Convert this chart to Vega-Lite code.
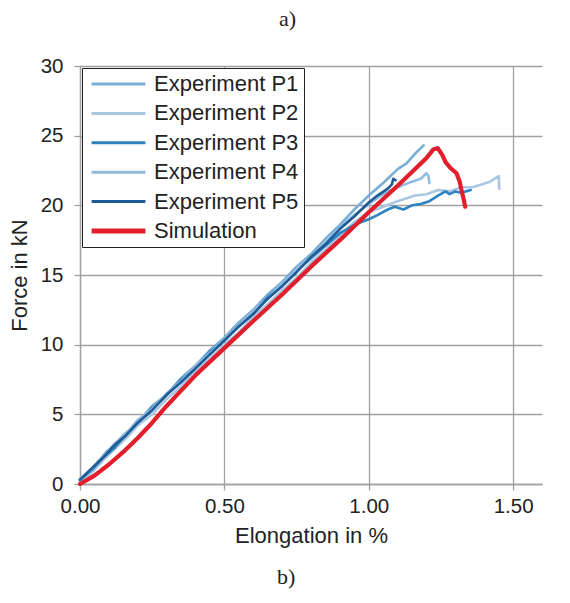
{
  "$schema": "https://vega.github.io/schema/vega-lite/v6.json",
  "width": 462,
  "height": 418,
  "autosize": {"type": "none"},
  "padding": {"left": 80, "top": 66, "right": 28, "bottom": 119},
  "background": "white",
  "title": {"text": "b)", "orient": "bottom", "frame": "bounds", "anchor": "middle", "font": "Liberation Serif", "fontSize": 22, "fontWeight": "normal", "color": "#222222", "offset": 20, "dx": 11},
  "config": {"view": {"stroke": null}, "font": "Liberation Sans"},
  "data": {"values": [
    {"series": "Experiment P1", "elongation": 0, "force": 0.3},
    {"series": "Experiment P1", "elongation": 0.03, "force": 0.9},
    {"series": "Experiment P1", "elongation": 0.06, "force": 1.5},
    {"series": "Experiment P1", "elongation": 0.09, "force": 2.3},
    {"series": "Experiment P1", "elongation": 0.12, "force": 2.8},
    {"series": "Experiment P1", "elongation": 0.15, "force": 3.5},
    {"series": "Experiment P1", "elongation": 0.2, "force": 4.4},
    {"series": "Experiment P1", "elongation": 0.25, "force": 5.6},
    {"series": "Experiment P1", "elongation": 0.3, "force": 6.4},
    {"series": "Experiment P1", "elongation": 0.35, "force": 7.6},
    {"series": "Experiment P1", "elongation": 0.4, "force": 8.5},
    {"series": "Experiment P1", "elongation": 0.45, "force": 9.6},
    {"series": "Experiment P1", "elongation": 0.5, "force": 10.5},
    {"series": "Experiment P1", "elongation": 0.55, "force": 11.6},
    {"series": "Experiment P1", "elongation": 0.6, "force": 12.5},
    {"series": "Experiment P1", "elongation": 0.65, "force": 13.6},
    {"series": "Experiment P1", "elongation": 0.7, "force": 14.5},
    {"series": "Experiment P1", "elongation": 0.75, "force": 15.6},
    {"series": "Experiment P1", "elongation": 0.8, "force": 16.5},
    {"series": "Experiment P1", "elongation": 0.85, "force": 17.6},
    {"series": "Experiment P1", "elongation": 0.9, "force": 18.6},
    {"series": "Experiment P1", "elongation": 0.95, "force": 19.7},
    {"series": "Experiment P1", "elongation": 1.0, "force": 20.7},
    {"series": "Experiment P1", "elongation": 1.05, "force": 21.6},
    {"series": "Experiment P1", "elongation": 1.1, "force": 22.6},
    {"series": "Experiment P1", "elongation": 1.13, "force": 23.0},
    {"series": "Experiment P1", "elongation": 1.16, "force": 23.7},
    {"series": "Experiment P1", "elongation": 1.19, "force": 24.3},

    {"series": "Experiment P2", "elongation": 0, "force": 0.2},
    {"series": "Experiment P2", "elongation": 0.04, "force": 0.8},
    {"series": "Experiment P2", "elongation": 0.08, "force": 1.7},
    {"series": "Experiment P2", "elongation": 0.12, "force": 2.5},
    {"series": "Experiment P2", "elongation": 0.16, "force": 3.3},
    {"series": "Experiment P2", "elongation": 0.2, "force": 4.2},
    {"series": "Experiment P2", "elongation": 0.25, "force": 5.0},
    {"series": "Experiment P2", "elongation": 0.3, "force": 6.1},
    {"series": "Experiment P2", "elongation": 0.35, "force": 7.0},
    {"series": "Experiment P2", "elongation": 0.4, "force": 8.1},
    {"series": "Experiment P2", "elongation": 0.45, "force": 9.0},
    {"series": "Experiment P2", "elongation": 0.5, "force": 10.0},
    {"series": "Experiment P2", "elongation": 0.55, "force": 10.9},
    {"series": "Experiment P2", "elongation": 0.6, "force": 12.0},
    {"series": "Experiment P2", "elongation": 0.65, "force": 12.9},
    {"series": "Experiment P2", "elongation": 0.7, "force": 13.9},
    {"series": "Experiment P2", "elongation": 0.75, "force": 14.8},
    {"series": "Experiment P2", "elongation": 0.8, "force": 15.9},
    {"series": "Experiment P2", "elongation": 0.85, "force": 16.8},
    {"series": "Experiment P2", "elongation": 0.9, "force": 17.8},
    {"series": "Experiment P2", "elongation": 0.95, "force": 18.8},
    {"series": "Experiment P2", "elongation": 1.0, "force": 19.5},
    {"series": "Experiment P2", "elongation": 1.05, "force": 19.9},
    {"series": "Experiment P2", "elongation": 1.1, "force": 20.3},
    {"series": "Experiment P2", "elongation": 1.16, "force": 20.7},
    {"series": "Experiment P2", "elongation": 1.2, "force": 20.8},
    {"series": "Experiment P2", "elongation": 1.24, "force": 21.1},
    {"series": "Experiment P2", "elongation": 1.28, "force": 21.0},
    {"series": "Experiment P2", "elongation": 1.32, "force": 21.3},
    {"series": "Experiment P2", "elongation": 1.36, "force": 21.3},
    {"series": "Experiment P2", "elongation": 1.39, "force": 21.5},
    {"series": "Experiment P2", "elongation": 1.42, "force": 21.7},
    {"series": "Experiment P2", "elongation": 1.45, "force": 22.1},
    {"series": "Experiment P2", "elongation": 1.452, "force": 21.2},

    {"series": "Experiment P3", "elongation": 0, "force": 0.3},
    {"series": "Experiment P3", "elongation": 0.04, "force": 1.0},
    {"series": "Experiment P3", "elongation": 0.08, "force": 1.9},
    {"series": "Experiment P3", "elongation": 0.12, "force": 2.6},
    {"series": "Experiment P3", "elongation": 0.16, "force": 3.6},
    {"series": "Experiment P3", "elongation": 0.2, "force": 4.4},
    {"series": "Experiment P3", "elongation": 0.25, "force": 5.5},
    {"series": "Experiment P3", "elongation": 0.3, "force": 6.4},
    {"series": "Experiment P3", "elongation": 0.35, "force": 7.5},
    {"series": "Experiment P3", "elongation": 0.4, "force": 8.4},
    {"series": "Experiment P3", "elongation": 0.45, "force": 9.5},
    {"series": "Experiment P3", "elongation": 0.5, "force": 10.3},
    {"series": "Experiment P3", "elongation": 0.55, "force": 11.4},
    {"series": "Experiment P3", "elongation": 0.6, "force": 12.3},
    {"series": "Experiment P3", "elongation": 0.65, "force": 13.4},
    {"series": "Experiment P3", "elongation": 0.7, "force": 14.3},
    {"series": "Experiment P3", "elongation": 0.75, "force": 15.3},
    {"series": "Experiment P3", "elongation": 0.8, "force": 16.2},
    {"series": "Experiment P3", "elongation": 0.85, "force": 17.1},
    {"series": "Experiment P3", "elongation": 0.9, "force": 18.0},
    {"series": "Experiment P3", "elongation": 0.95, "force": 18.6},
    {"series": "Experiment P3", "elongation": 1.0, "force": 19.0},
    {"series": "Experiment P3", "elongation": 1.03, "force": 19.3},
    {"series": "Experiment P3", "elongation": 1.066, "force": 19.7},
    {"series": "Experiment P3", "elongation": 1.09, "force": 19.9},
    {"series": "Experiment P3", "elongation": 1.12, "force": 19.7},
    {"series": "Experiment P3", "elongation": 1.15, "force": 20.0},
    {"series": "Experiment P3", "elongation": 1.18, "force": 20.1},
    {"series": "Experiment P3", "elongation": 1.21, "force": 20.3},
    {"series": "Experiment P3", "elongation": 1.24, "force": 20.7},
    {"series": "Experiment P3", "elongation": 1.266, "force": 21.0},
    {"series": "Experiment P3", "elongation": 1.28, "force": 20.8},
    {"series": "Experiment P3", "elongation": 1.3, "force": 21.0},
    {"series": "Experiment P3", "elongation": 1.32, "force": 20.9},
    {"series": "Experiment P3", "elongation": 1.353, "force": 21.1},

    {"series": "Experiment P4", "elongation": 0, "force": 0.4},
    {"series": "Experiment P4", "elongation": 0.04, "force": 1.1},
    {"series": "Experiment P4", "elongation": 0.08, "force": 2.0},
    {"series": "Experiment P4", "elongation": 0.12, "force": 2.9},
    {"series": "Experiment P4", "elongation": 0.16, "force": 3.6},
    {"series": "Experiment P4", "elongation": 0.2, "force": 4.6},
    {"series": "Experiment P4", "elongation": 0.25, "force": 5.4},
    {"series": "Experiment P4", "elongation": 0.3, "force": 6.5},
    {"series": "Experiment P4", "elongation": 0.35, "force": 7.4},
    {"series": "Experiment P4", "elongation": 0.4, "force": 8.5},
    {"series": "Experiment P4", "elongation": 0.45, "force": 9.4},
    {"series": "Experiment P4", "elongation": 0.5, "force": 10.4},
    {"series": "Experiment P4", "elongation": 0.55, "force": 11.4},
    {"series": "Experiment P4", "elongation": 0.6, "force": 12.4},
    {"series": "Experiment P4", "elongation": 0.65, "force": 13.3},
    {"series": "Experiment P4", "elongation": 0.7, "force": 14.4},
    {"series": "Experiment P4", "elongation": 0.75, "force": 15.3},
    {"series": "Experiment P4", "elongation": 0.8, "force": 16.3},
    {"series": "Experiment P4", "elongation": 0.85, "force": 17.3},
    {"series": "Experiment P4", "elongation": 0.9, "force": 18.4},
    {"series": "Experiment P4", "elongation": 0.95, "force": 19.3},
    {"series": "Experiment P4", "elongation": 1.0, "force": 20.1},
    {"series": "Experiment P4", "elongation": 1.05, "force": 20.8},
    {"series": "Experiment P4", "elongation": 1.1, "force": 21.3},
    {"series": "Experiment P4", "elongation": 1.15, "force": 21.7},
    {"series": "Experiment P4", "elongation": 1.18, "force": 21.9},
    {"series": "Experiment P4", "elongation": 1.2, "force": 22.3},
    {"series": "Experiment P4", "elongation": 1.207, "force": 22.1},
    {"series": "Experiment P4", "elongation": 1.21, "force": 21.6},

    {"series": "Experiment P5", "elongation": 0, "force": 0.3},
    {"series": "Experiment P5", "elongation": 0.04, "force": 1.1},
    {"series": "Experiment P5", "elongation": 0.08, "force": 1.9},
    {"series": "Experiment P5", "elongation": 0.12, "force": 2.8},
    {"series": "Experiment P5", "elongation": 0.16, "force": 3.5},
    {"series": "Experiment P5", "elongation": 0.2, "force": 4.4},
    {"series": "Experiment P5", "elongation": 0.25, "force": 5.3},
    {"series": "Experiment P5", "elongation": 0.3, "force": 6.4},
    {"series": "Experiment P5", "elongation": 0.35, "force": 7.3},
    {"series": "Experiment P5", "elongation": 0.4, "force": 8.3},
    {"series": "Experiment P5", "elongation": 0.45, "force": 9.3},
    {"series": "Experiment P5", "elongation": 0.5, "force": 10.3},
    {"series": "Experiment P5", "elongation": 0.55, "force": 11.3},
    {"series": "Experiment P5", "elongation": 0.6, "force": 12.2},
    {"series": "Experiment P5", "elongation": 0.65, "force": 13.3},
    {"series": "Experiment P5", "elongation": 0.7, "force": 14.2},
    {"series": "Experiment P5", "elongation": 0.75, "force": 15.2},
    {"series": "Experiment P5", "elongation": 0.8, "force": 16.3},
    {"series": "Experiment P5", "elongation": 0.85, "force": 17.2},
    {"series": "Experiment P5", "elongation": 0.9, "force": 18.3},
    {"series": "Experiment P5", "elongation": 0.95, "force": 19.2},
    {"series": "Experiment P5", "elongation": 1.0, "force": 20.2},
    {"series": "Experiment P5", "elongation": 1.03, "force": 20.7},
    {"series": "Experiment P5", "elongation": 1.066, "force": 21.2},
    {"series": "Experiment P5", "elongation": 1.08, "force": 21.5},
    {"series": "Experiment P5", "elongation": 1.085, "force": 21.9},
    {"series": "Experiment P5", "elongation": 1.093, "force": 21.8},

    {"series": "Simulation", "elongation": 0, "force": 0},
    {"series": "Simulation", "elongation": 0.05, "force": 0.6},
    {"series": "Simulation", "elongation": 0.1, "force": 1.4},
    {"series": "Simulation", "elongation": 0.15, "force": 2.3},
    {"series": "Simulation", "elongation": 0.2, "force": 3.3},
    {"series": "Simulation", "elongation": 0.25, "force": 4.4},
    {"series": "Simulation", "elongation": 0.3, "force": 5.6},
    {"series": "Simulation", "elongation": 0.35, "force": 6.7},
    {"series": "Simulation", "elongation": 0.4, "force": 7.8},
    {"series": "Simulation", "elongation": 0.5, "force": 9.75},
    {"series": "Simulation", "elongation": 0.6, "force": 11.7},
    {"series": "Simulation", "elongation": 0.7, "force": 13.6},
    {"series": "Simulation", "elongation": 0.8, "force": 15.6},
    {"series": "Simulation", "elongation": 0.9, "force": 17.5},
    {"series": "Simulation", "elongation": 1.0, "force": 19.5},
    {"series": "Simulation", "elongation": 1.1, "force": 21.4},
    {"series": "Simulation", "elongation": 1.2, "force": 23.4},
    {"series": "Simulation", "elongation": 1.223, "force": 24.0},
    {"series": "Simulation", "elongation": 1.239, "force": 24.1},
    {"series": "Simulation", "elongation": 1.255, "force": 23.6},
    {"series": "Simulation", "elongation": 1.266, "force": 23.1},
    {"series": "Simulation", "elongation": 1.282, "force": 22.7},
    {"series": "Simulation", "elongation": 1.304, "force": 22.3},
    {"series": "Simulation", "elongation": 1.315, "force": 21.7},
    {"series": "Simulation", "elongation": 1.32, "force": 21.2},
    {"series": "Simulation", "elongation": 1.328, "force": 20.5},
    {"series": "Simulation", "elongation": 1.334, "force": 19.9}
  ]},
  "layer": [
    {
      "transform": [{"filter": "datum.series !== 'Simulation'"}],
      "mark": {"type": "line", "strokeWidth": 2.6, "strokeJoin": "round", "strokeCap": "round"},
      "encoding": {
        "x": {"field": "elongation", "type": "quantitative", "scale": {"domain": [0, 1.5]},
          "axis": {"orient": "bottom", "values": [0, 0.5, 1, 1.5], "format": ".2f", "title": "Elongation in %",
            "grid": true, "gridColor": "#a0a0a0", "gridWidth": 1.3, "domainColor": "#a0a0a0", "domainWidth": 1.3,
            "tickColor": "#a0a0a0", "tickWidth": 1.3, "tickSize": 6, "labelFontSize": 20.5, "labelColor": "#222222",
            "labelPadding": 6, "labelFlush": false, "titleFontSize": 22, "titleFontWeight": "normal", "titleColor": "#222222", "titlePadding": 9}},
        "y": {"field": "force", "type": "quantitative", "scale": {"domain": [0, 30]},
          "axis": {"values": [0, 5, 10, 15, 20, 25, 30], "title": "Force in kN",
            "grid": true, "gridColor": "#a0a0a0", "gridWidth": 1.3, "domainColor": "#a0a0a0", "domainWidth": 1.3,
            "tickColor": "#a0a0a0", "tickWidth": 1.3, "tickSize": 6, "labelFontSize": 20.5, "labelColor": "#222222",
            "labelPadding": 11, "labelFlush": false, "titleFontSize": 22, "titleFontWeight": "normal", "titleColor": "#222222", "titlePadding": 9}},
        "color": {"field": "series", "type": "nominal",
          "scale": {"domain": ["Experiment P1", "Experiment P2", "Experiment P3", "Experiment P4", "Experiment P5", "Simulation"],
                    "range": ["#7aaed6", "#a9c7e3", "#2d82bf", "#8fbbdf", "#1f5c96", "#e31e2b"]},
          "legend": {"orient": "top-left", "offset": 2, "title": null, "strokeColor": "#222222", "fillColor": "white",
            "padding": 5, "symbolType": "stroke", "symbolSize": 2900, "symbolOffset": 3, "labelFontSize": 22, "labelColor": "#222222",
            "labelOffset": 7, "rowPadding": 7.4, "clipHeight": 22, "cornerRadius": 0,
            "encode": {"symbols": {"update": {"strokeWidth": {"signal": "(datum.value === 'Simulation' ? 5 : 3)"}}}}}}
      }
    },
    {
      "transform": [{"filter": "datum.series === 'Simulation'"}],
      "mark": {"type": "line", "strokeWidth": 4.2, "strokeJoin": "round", "strokeCap": "round"},
      "encoding": {
        "x": {"field": "elongation", "type": "quantitative",
          "axis": {"orient": "top", "labels": false, "ticks": false, "domain": false, "grid": false, "title": "a)",
            "titleFont": "Liberation Serif", "titleFontSize": 22, "titleFontWeight": "normal", "titleColor": "#222222",
            "titlePadding": 36, "titleX": 207}},
        "y": {"field": "force", "type": "quantitative"},
        "color": {"field": "series", "type": "nominal"}
      }
    }
  ],
  "resolve": {"axis": {"x": "independent"}}
}
